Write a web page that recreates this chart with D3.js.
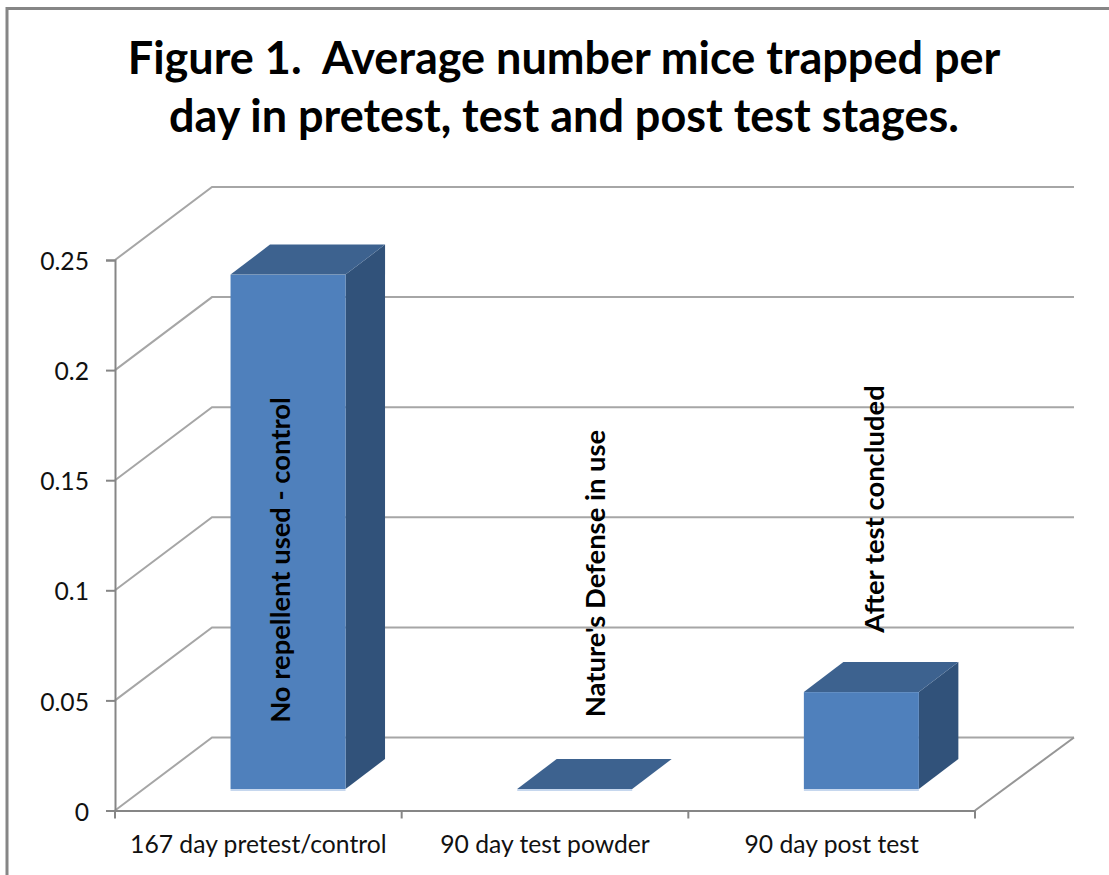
<!DOCTYPE html>
<html>
<head>
<meta charset="utf-8">
<script src="https://cdnjs.cloudflare.com/ajax/libs/d3/7.8.5/d3.min.js"></script>
<style>
	html, body { margin: 0; padding: 0; background: #fff; }
	svg { display: block; font-family: Lato, "Open Sans", sans-serif; }
	.tick text { fill: #111; font-family: Lato, "Open Sans", sans-serif; font-size: 24.7px; }
	.title { font-size: 45px; font-weight: bold; text-anchor: middle; white-space: pre; }
	.bar-label { font-size: 27.4px; font-weight: bold; text-anchor: middle; }
</style>
</head>
<body>
<svg class="canvas" width="1109" height="875"></svg>
<script>
var title_lines = ['Figure 1.  Average number mice trapped per', 'day in pretest, test and post test stages.'];
var categories = ['167 day pretest/control', '90 day test powder', '90 day post test'];
var values = [0.2336, 0, 0.044];
var bar_labels = ['No repellent used - control', "Nature's Defense in use", 'After test concluded'];
var y_ticks = [0, 0.05, 0.1, 0.15, 0.2, 0.25];

var svg = d3.select('.canvas');

// chart frame, in pixels
var left = 115, right = 975, bottom = 810.5, top_y = 260;
var depth_x = 97, depth_y = -73;       // floor depth
var bar_dx = 29.7, bar_dy = -21.5;     // where the front of a bar stands on the floor
var cap_dx = 39.5, cap_dy = -30;       // depth of the bar itself
var bar_width = 115;
var label_mid = [560, 573.5, 509];     // vertical centre of the rotated labels
var label_nudge = [2, 30, 23];         // rotated labels sit off centre in the original

var x = d3.scaleBand().domain(categories).range([left, right]);
var y = d3.scaleLinear().domain([0, 0.25]).range([bottom, top_y]);

// OUTER BORDER
svg.append('path')
	.attr('d', 'M7,875V8.5H1109')
	.attr('fill', 'none')
	.attr('stroke', '#868686')
	.attr('stroke-width', 3);

// TITLE
svg.selectAll('.title')
	.data(title_lines)
	.enter().append('text')
	.attr('class', 'title')
	.attr('x', 564)
	.attr('y', function(d, i) { return 74 + i * 58; })
	.text(function(d) { return d; });

// BACK GRIDLINES AND SIDE WALL
svg.append('g').selectAll('path')
	.data(y_ticks)
	.enter().append('path')
	.attr('d', function(d) {
		var py = y(d);
		return 'M' + left + ',' + py + 'L' + (left + depth_x) + ',' + (py + depth_y) + 'H' + (right + depth_x + 2);
	})
	.attr('fill', 'none')
	.attr('stroke', '#a6a6a6')
	.attr('stroke-width', 2);

// FLOOR RIGHT EDGE
svg.append('line')
	.attr('x1', right).attr('y1', bottom)
	.attr('x2', right + depth_x + 2).attr('y2', bottom + depth_y)
	.attr('stroke', '#969696')
	.attr('stroke-width', 2);

// AXES
var y_axis = svg.append('g')
	.attr('transform', 'translate(' + left + ',0)')
	.call(d3.axisLeft(y).tickValues(y_ticks).tickFormat(String).tickSize(9).tickPadding(17));

y_axis.selectAll('.tick text').attr('dy', '0.39em');

var x_axis = svg.append('g')
	.attr('transform', 'translate(0,' + bottom + ')')
	.call(d3.axisBottom(x).tickSize(0).tickPadding(25));

// tick marks sit between the categories, so they are added by hand from the band scale
x_axis.selectAll('.sep')
	.data([left].concat(categories.map(function(c) { return x(c) + x.bandwidth(); })))
	.enter().append('line')
	.attr('class', 'sep')
	.attr('x1', function(d) { return d; })
	.attr('x2', function(d) { return d; })
	.attr('y1', 0)
	.attr('y2', 8);

[y_axis, x_axis].forEach(function(a) {
	a.selectAll('.domain, line').attr('stroke', '#868686').attr('stroke-width', 2);
});

// BARS
var bars = svg.append('g').selectAll('g')
	.data(categories)
	.enter().append('g')
	.attr('transform', function(d) {
		return 'translate(' + (x(d) + x.bandwidth() / 2 + bar_dx - bar_width / 2) + ',' + (bottom + bar_dy) + ')';
	});

function bar_height(i) { return y(0) - y(values[i]); }

// light bottom edge
bars.append('rect')
	.attr('y', 0)
	.attr('width', bar_width)
	.attr('height', 2)
	.attr('fill', '#c6d7ee');

// side
bars.append('path')
	.attr('d', function(d, i) {
		var h = bar_height(i);
		return 'M' + bar_width + ',0V' + (-h) + 'l' + cap_dx + ',' + cap_dy + 'V' + cap_dy + 'Z';
	})
	.attr('fill', '#31527a');

// front
bars.append('rect')
	.attr('y', function(d, i) { return -bar_height(i); })
	.attr('width', bar_width)
	.attr('height', function(d, i) { return bar_height(i); })
	.attr('fill', '#4f80bc');

// top
bars.append('path')
	.attr('d', function(d, i) {
		var h = bar_height(i);
		return 'M0,' + (-h) + 'l' + cap_dx + ',' + cap_dy + 'H' + (bar_width + cap_dx) + 'l' + (-cap_dx) + ',' + (-cap_dy) + 'Z';
	})
	.attr('fill', '#3d628f');

// ROTATED LABELS
svg.selectAll('.bar-label')
	.data(categories)
	.enter().append('text')
	.attr('class', 'bar-label')
	.attr('transform', function(d, i) {
		var cx = x(d) + x.bandwidth() / 2 + bar_dx + label_nudge[i];
		return 'translate(' + cx + ',' + label_mid[i] + ') rotate(-90)';
	})
	.text(function(d, i) { return bar_labels[i]; });
</script>
</body>
</html>
